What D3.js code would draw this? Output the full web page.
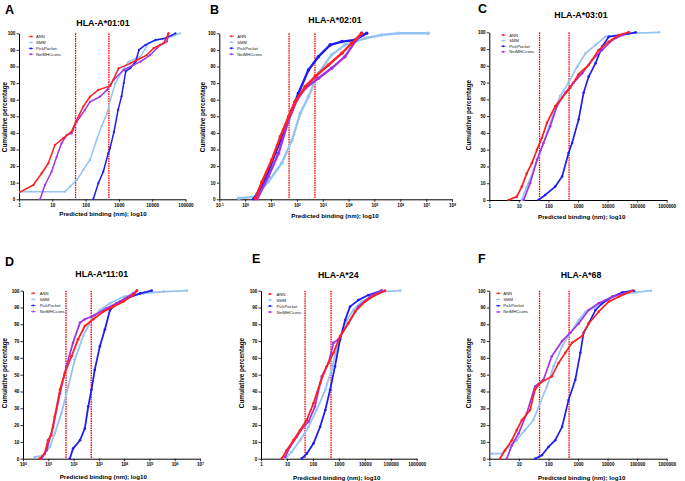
<!DOCTYPE html>
<html><head><meta charset="utf-8">
<script src="https://cdn.jsdelivr.net/npm/d3@7/dist/d3.min.js"></script>
<style>body{margin:0;background:#fff}svg{display:block}text{font-family:"Liberation Sans",Arial,sans-serif}</style>
</head><body><svg id="c" width="685" height="481"></svg>
<script>
// ---------- DATA ----------
const seriesNames = ["ANN","SMM","PickPocket","NetMHCcons"];
const titles = ["HLA-A*01:01","HLA-A*02:01","HLA-A*03:01","HLA-A*11:01","HLA-A*24","HLA-A*68"];
const letters = ["A","B","C","D","E","F"];
const yTicks = [0,10,20,30,40,50,60,70,80,90,100];
const thresholds = [50,500];
const xTicksA = [1,10,100,1000,10000,100000];
const xTicksB = [0.1,1,10,100,1e3,1e4,1e5,1e6,1e7,1e8];
const xTicksC = [1,10,100,1000,10000,100000,1000000];
const xTicksD = [1,10,100,1e3,1e4,1e5,1e6,1e7];
const xTicksE = [1,10,100,1000,10000,100000,1000000];
const xTicksF = [1,10,100,1000,10000,100000,1000000];
const xLabel = "Predicted binding (nm); log10";
const yLabel = "Cumulative percentage";

// [predicted binding nm, cumulative %]
const A_ANN = [[1,4],[2.7,8.6],[4.8,15.7],[7.6,21.7],[12,32.7],[21,36.7],[38,40.8],[51,46.8],[85,55.8],[135,61.8],[240,65.9],[550,68.3],[980,78.9],[2200,81.9],[3500,83.9],[6900,86.9],[11000,91],[22000,94],[31000,100]];
const A_SMM = [[1,4.5],[24,4.6],[34,7.6],[54,11.6],[85,17.7],[135,23.7],[214,35.7],[300,43.8],[440,51.8],[550,59.8],[780,69.9],[1230,76.9],[1950,82.9],[4400,85.9],[7800,94],[13800,96],[27500,97],[69000,100]];
const A_PP = [[170,0],[240,9.6],[340,16.6],[480,27.7],[540,30.7],[710,40.6],[950,54],[1200,62],[1400,70],[1600,77],[2200,79],[3200,83],[4000,90],[6300,93],[12600,96],[25000,97],[50000,100]];
const A_NET = [[4.3,0],[6,8.6],[9.5,16.6],[13.5,25.6],[19,33.7],[27,38.7],[38,39.7],[54,46.7],[68,49.7],[95,53.7],[135,58.7],[270,61.8],[440,65.9],[690,71.9],[1380,77.9],[4400,82.9],[8700,86.9],[17400,93],[27500,95],[31000,100]];

const B_ANN = [[2.5,0.6],[4.5,10.6],[10.7,23.7],[23,37.8],[48,49.8],[85,58.8],[210,67.9],[510,73.9],[1660,80.9],[5500,88],[13200,94],[32000,100]];
const B_SMM = [[0.56,0.6],[2.5,1.6],[7.9,10.6],[26,21.7],[65,35.7],[135,51.8],[280,61.8],[680,75.9],[2200,87],[7200,93],[43000,97],[190000,99],[830000,100],[12000000,100]];
const B_PP = [[2.1,0],[6,11.6],[14.5,27.7],[30,39.8],[65,53.8],[115,63.9],[280,77.9],[680,85.9],[1950,93],[5500,95],[17800,96],[50000,100]];
const B_NET = [[2.9,0],[7.9,13.7],[19.5,27.7],[48,47.8],[100,59.8],[210,66.9],[680,72.9],[2200,78.9],[7200,85.9],[20000,96],[32000,100]];

const C_ANN = [[4.5,0],[8.5,2],[12.6,8],[18.6,16],[27.5,22],[41,30],[60,37],[89,46],[170,56],[290,61],[550,67],[1050,75],[2300,80.5],[5000,89.5],[11000,94.4],[24000,98.4],[52000,100]];
const C_SMM = [[12.6,0],[18.6,8],[32,18],[52,28],[89,40],[150,52],[250,62],[480,70],[930,79.5],[1800,87.5],[3900,92.4],[8500,97.4],[52000,99.4],[550000,100]];
const C_PP = [[46,0],[78,3],[170,8],[290,14],[480,28],[630,34],[1050,48],[1550,64],[2300,73.6],[3900,81.5],[6600,91.5],[11000,97.4],[32000,98.4],[89000,100]];
const C_NET = [[14.5,0],[24,10],[41,24],[68,34],[115,44],[195,56],[370,64],[710,70],[1380,75.5],[3000,83.5],[6600,89.5],[14500,95.4],[32000,98.4],[52000,100]];

const D_ANN = [[4.6,0],[7.2,3],[9.8,11],[13,14],[18,25],[29,41],[45,51],[83,61],[150,71],[280,79],[600,83],[1480,87.5],[3700,90.5],[9300,93.5],[23000,97.4],[32000,100]];
const D_SMM = [[2.9,1],[6.2,2],[11.5,7],[18,15],[33,27],[62,43],[112,59],[240,73],[510,83],[1100,88.5],[2750,92.5],[9300,96.4],[58000,98.4],[360000,99.4],[3000000,100]];
const D_PP = [[71,0],[95,6],[180,11],[280,18],[380,31],[510,41],[690,53],[1100,67],[1740,77],[2750,88.5],[5000,92.5],[12600,95.4],[43000,98.4],[123000,100]];
const D_NET = [[5.4,0],[8.5,5],[15.5,19],[29,39],[52,55],[95,69],[180,81],[280,83],[690,85.5],[2000,89.5],[6900,93.5],[23000,98.4],[32000,100]];

const E_ANN = [[6.3,0],[9.8,5],[17.8,11],[32,17],[58,23],[105,33],[190,45],[340,55],[620,63],[1120,73],[2300,80.5],[4200,87.5],[10200,93.5],[25000,97.4],[60000,100]];
const E_SMM = [[8.5,0],[15,4],[32,11],[68,19],[140,29],[300,41],[520,53],[950,69],[1740,80.5],[3600,88.5],[7600,93.5],[18600,96.4],[52000,99.4],[230000,100]];
const E_PP = [[37,0],[58,3],[105,9],[190,19],[300,29],[460,41],[710,55],[1120,71],[1740,82.5],[2700,90.5],[5600,94.4],[13800,97.4],[45000,100]];
const E_NET = [[8.5,1],[13,7],[24,13],[43,19],[68,22],[120,31],[220,49],[400,57],[620,69],[950,71],[2300,80.5],[5600,90.5],[18600,97.4],[45000,100]];

const F_ANN = [[2.3,0],[3.4,5],[5.8,11],[8.5,17],[12.6,23],[24,29],[35,41],[52,45],[130,49],[220,57],[370,63],[630,69],[1380,73],[2300,80.5],[5000,87.5],[11000,93.5],[24000,96.4],[69000,100]];
const F_SMM = [[1.2,3],[2.6,3],[4.5,7],[8.5,11],[16,17],[31,23],[52,33],[89,43],[150,55],[290,67],[480,73],[1050,82.5],[1800,87.5],[3900,90.5],[8500,94.4],[24000,97.4],[89000,99],[290000,100]];
const F_PP = [[35,0],[60,2],[100,7],[170,11],[290,19],[480,35],[810,47],[1200,63],[1550,75],[2300,80.5],[3900,88.5],[6600,92.5],[14500,96.4],[32000,99],[78000,100]];
const F_NET = [[3.9,0],[5.8,8],[9.8,15],[18.6,27],[35,43],[68,47],[130,61],[290,70],[550,75],[1050,80.5],[2300,88.5],[5000,92.5],[14500,96.4],[52000,99.4],[69000,100]];

// ---------- STYLE / LAYOUT ----------
const colors = {ANN:"#ff1f1f", SMM:"#94c4f2", PickPocket:"#1d1df2", NetMHCcons:"#a233e2"};
const drawOrder = ["SMM","PickPocket","NetMHCcons","ANN"];

const panels = [
  {data:{ANN:A_ANN,SMM:A_SMM,PickPocket:A_PP,NetMHCcons:A_NET}, ticks:xTicksA, sup:false,
   x0:19, x1:185.5, yT:33.3, yB:199.3, title:[103,26], letter:[5,13.5], xlab:[103,215.5], ylab:[4.5,117], leg:[31,36.6,5.9,5], lw:1.5},
  {data:{ANN:B_ANN,SMM:B_SMM,PickPocket:B_PP,NetMHCcons:B_NET}, ticks:xTicksB, sup:true,
   x0:219.3, x1:452, yT:33.3, yB:199.3, title:[335,23], letter:[210,13.5], xlab:[335,217.5], ylab:[202.5,117], leg:[231.5,36.2,6,5.8], lw:2.4},
  {data:{ANN:C_ANN,SMM:C_SMM,PickPocket:C_PP,NetMHCcons:C_NET}, ticks:xTicksC, sup:false,
   x0:489.3, x1:666.7, yT:32.3, yB:200, title:[581,18.2], letter:[478,13], xlab:[581.7,219], ylab:[468.5,115], leg:[503.3,35,5.6,6], lw:1.7},
  {data:{ANN:D_ANN,SMM:D_SMM,PickPocket:D_PP,NetMHCcons:D_NET}, ticks:xTicksD, sup:true,
   x0:23, x1:200, yT:290.7, yB:458.7, title:[101.7,276.5], letter:[5,266], xlab:[103.3,479], ylab:[4.3,373], leg:[33.3,293.3,6.1,6.5], lw:1.8},
  {data:{ANN:E_ANN,SMM:E_SMM,PickPocket:E_PP,NetMHCcons:E_NET}, ticks:xTicksE, sup:false,
   x0:261, x1:416.7, yT:290.7, yB:458.7, title:[338.3,278], letter:[252,263], xlab:[336.7,479.5], ylab:[241,373], leg:[270,294,6,6.5], lw:1.8},
  {data:{ANN:F_ANN,SMM:F_SMM,PickPocket:F_PP,NetMHCcons:F_NET}, ticks:xTicksF, sup:false,
   x0:489.3, x1:666.7, yT:290.7, yB:458.7, title:[581,278], letter:[478,263], xlab:[581.7,479.5], ylab:[468.5,373], leg:[498.3,293.3,6.2,5], lw:1.7}
];

const svg = d3.select("#c");

panels.forEach((p,i)=>{
  const x = d3.scaleLog().domain([p.ticks[0], p.ticks[p.ticks.length-1]]).range([p.x0,p.x1]);
  const y = d3.scaleLinear().domain([0,100]).range([p.yB,p.yT]);
  const g = svg.append("g");

  // clip
  const cid = "clip"+i;
  svg.append("clipPath").attr("id",cid).append("rect")
    .attr("x",p.x0).attr("y",p.yT-3).attr("width",p.x1-p.x0+8).attr("height",p.yB-p.yT+4);

  // letter & title
  g.append("text").attr("x",p.letter[0]).attr("y",p.letter[1]).attr("font-size",12.5).attr("font-weight","bold").text(letters[i]);
  g.append("text").attr("x",p.title[0]).attr("y",p.title[1]).attr("text-anchor","middle").attr("font-size",8.8).attr("font-weight","bold").text(titles[i]);

  // axes
  const ya = g.append("g").attr("transform",`translate(${p.x0},0)`)
    .call(d3.axisLeft(y).tickValues(yTicks).tickSize(2.5).tickSizeOuter(0).tickPadding(1.2));
  const xa = g.append("g").attr("transform",`translate(0,${p.yB})`)
    .call(d3.axisBottom(x).tickValues(p.ticks).tickSize(2.5).tickSizeOuter(0).tickPadding(2)
      .tickFormat(d=> p.sup ? "" : d3.format("d")(d)));
  [ya,xa].forEach(a=>{
    a.select(".domain").attr("stroke","#000").attr("stroke-width",1);
    a.selectAll(".tick line").attr("stroke","#000").attr("stroke-width",0.8);
    a.selectAll("text").attr("font-size",4.6).attr("font-weight","bold").attr("font-family","Liberation Sans, Arial, sans-serif").attr("fill","#000");
  });
  if(p.sup){
    xa.selectAll(".tick text").each(function(d){
      const t = d3.select(this);
      t.text("10");
      t.append("tspan").attr("dy","-0.45em").attr("font-size","0.7em").text(Math.round(Math.log10(d)));
    });
  }

  // axis labels
  g.append("text").attr("x",p.xlab[0]).attr("y",p.xlab[1]).attr("text-anchor","middle").attr("font-size",6.2).attr("font-weight","bold").text(xLabel);
  g.append("text").attr("transform",`translate(${p.ylab[0]},${p.ylab[1]}) rotate(-90)`).attr("text-anchor","middle")
    .attr("dominant-baseline","central").attr("font-size",6.4).attr("font-weight","bold").text(yLabel);

  // threshold lines
  g.selectAll(".thr").data(thresholds).enter().append("line")
    .attr("x1",d=>x(d)).attr("x2",d=>x(d)).attr("y1",y(100)).attr("y2",y(0))
    .attr("stroke","#ff0000").attr("stroke-width",1.3).attr("stroke-dasharray","1.6,0.8");

  // series
  const line = d3.line().x(d=>x(d[0])).y(d=>y(d[1]));
  const pg = g.append("g").attr("clip-path",`url(#${cid})`);
  drawOrder.forEach(s=>{
    const d = p.data[s];
    pg.append("path").datum(d).attr("d",line).attr("fill","none").attr("stroke",colors[s]).attr("stroke-width",p.lw).attr("stroke-linejoin","round");
    pg.selectAll(null).data(d).enter().append("circle").attr("cx",q=>x(q[0])).attr("cy",q=>y(q[1])).attr("r",p.lw*0.75).attr("fill",colors[s]);
  });

  // legend
  const [lx,ly,ls,ltd] = p.leg;
  seriesNames.forEach((s,k)=>{
    const yy = ly + k*ls;
    g.append("line").attr("x1",lx-2.3).attr("x2",lx+2.3).attr("y1",yy).attr("y2",yy).attr("stroke",colors[s]).attr("stroke-width",0.8);
    g.append("circle").attr("cx",lx).attr("cy",yy).attr("r",1).attr("fill",colors[s]);
    g.append("text").attr("x",lx+ltd).attr("y",yy).attr("dominant-baseline","central").attr("font-size",4.2).attr("fill","#222").text(s);
  });
});
</script></body></html>
